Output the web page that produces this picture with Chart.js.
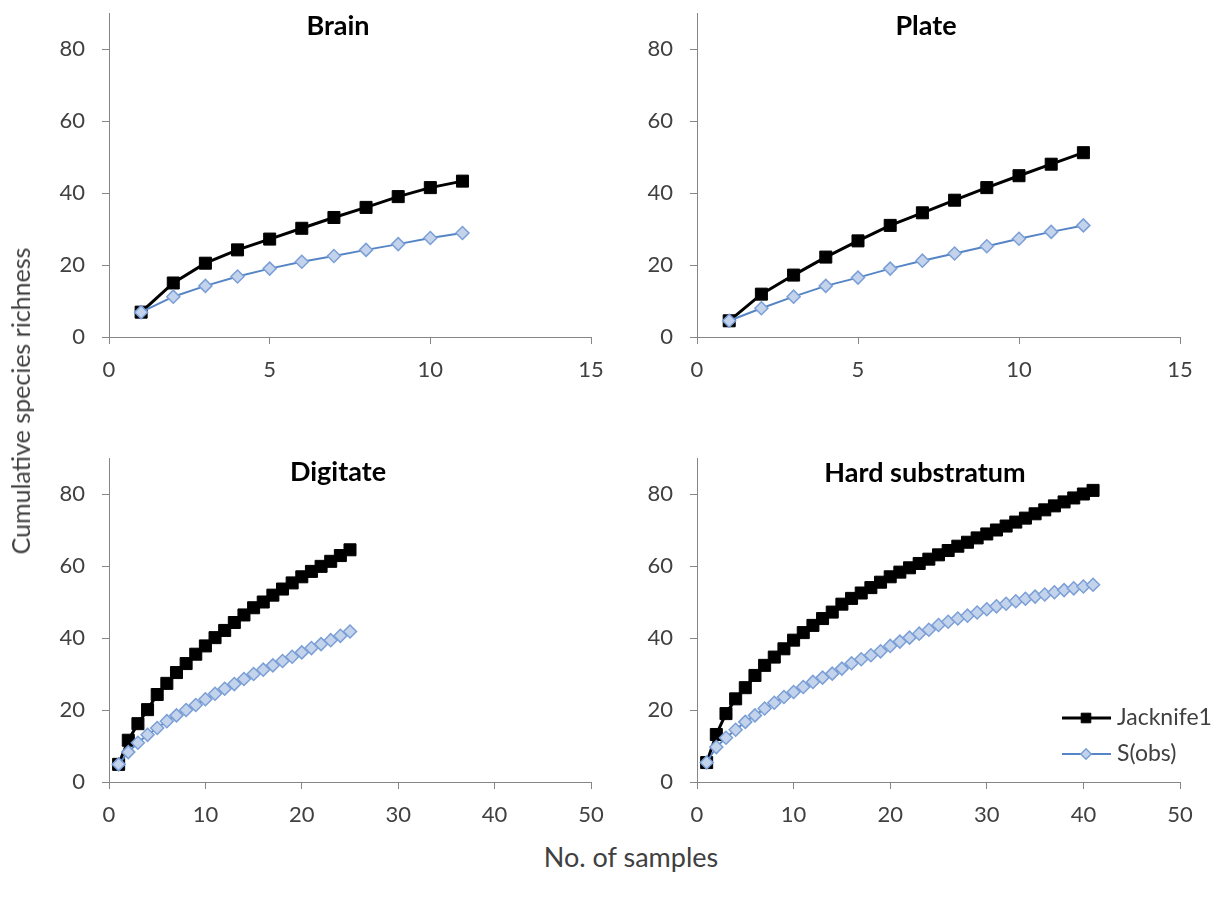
<!DOCTYPE html>
<html lang="en">
<head>
<meta charset="UTF-8">
<title>Cumulative species richness</title>
<script src="https://cdn.jsdelivr.net/npm/chart.js"></script>
<style>
  body { margin: 0; background: #fff; font-family: Lato, sans-serif; }
  #wrap { position: relative; width: 1223px; height: 900px; overflow: hidden; }
  canvas { position: absolute; }
  .ttl { position: absolute; transform: translate(-50%, -50%); font-weight: bold; font-size: 27px; color: #000; white-space: nowrap; }
  .axt { position: absolute; transform: translate(-50%, -50%); font-size: 25px; color: #404040; white-space: nowrap; }
</style>
</head>
<body>
<div id="wrap">
  <canvas id="cBrain" width="590" height="390" style="left:20px;top:0px"></canvas>
  <canvas id="cPlate" width="590" height="390" style="left:610px;top:0px"></canvas>
  <canvas id="cDigit" width="590" height="390" style="left:20px;top:445px"></canvas>
  <canvas id="cHard" width="613" height="390" style="left:610px;top:445px"></canvas>

  <div class="ttl" style="left:338px;top:24px">Brain</div>
  <div class="ttl" style="left:926px;top:24px">Plate</div>
  <div class="ttl" style="left:338px;top:470px">Digitate</div>
  <div class="ttl" style="left:925px;top:471px">Hard substratum</div>

  <div class="axt" style="left:20px;top:401px;transform:translate(-50%,-50%) rotate(-90deg)">Cumulative species richness</div>
  <div class="axt" style="left:631px;top:856px;font-size:27px">No. of samples</div>
</div>

<script>
// series names
const seriesNames = ['Jacknife1', 'S(obs)'];

// Brain
const brainJack = [6.9, 15.0, 20.5, 24.2, 27.2, 30.2, 33.2, 36.0, 39.0, 41.5, 43.3];
const brainSobs = [6.9, 11.2, 14.2, 16.8, 19.0, 20.9, 22.5, 24.2, 25.8, 27.5, 28.9];

// Plate
const plateJack = [4.5, 11.9, 17.2, 22.2, 26.7, 31.0, 34.5, 38.0, 41.5, 44.8, 48.0, 51.2];
const plateSobs = [4.5, 8.0, 11.2, 14.2, 16.5, 19.0, 21.2, 23.2, 25.2, 27.3, 29.2, 31.0];

// Digitate
const digitJack = [4.9, 11.6, 16.2, 20.1, 24.3, 27.4, 30.4, 32.9, 35.5, 37.8, 40.1, 42.1, 44.3, 46.4, 48.4,
                   50.0, 51.9, 53.6, 55.3, 57.0, 58.5, 59.9, 61.3, 62.9, 64.5];
const digitSobs = [4.9, 8.3, 10.9, 13.1, 15.0, 16.9, 18.5, 20.0, 21.4, 23.0, 24.5, 25.9, 27.2, 28.6, 30.0,
                   31.2, 32.4, 33.6, 34.8, 36.0, 37.2, 38.3, 39.4, 40.6, 41.8];

// Hard substratum
const hardJack = [5.4, 13.2, 19.0, 23.1, 26.2, 29.6, 32.4, 34.7, 37.0, 39.4, 41.5, 43.5, 45.4, 47.2, 49.4,
                  51.0, 52.5, 54.0, 55.5, 57.0, 58.3, 59.5, 60.7, 61.9, 63.1, 64.3, 65.5, 66.6, 67.8, 68.9,
                  70.0, 71.1, 72.2, 73.3, 74.5, 75.6, 76.7, 77.8, 78.9, 80.0, 81.0];
const hardSobs = [5.4, 9.7, 12.3, 14.5, 16.7, 18.5, 20.4, 22.0, 23.6, 25.0, 26.4, 27.8, 29.0, 30.1, 31.5,
                  33.0, 34.1, 35.2, 36.3, 37.8, 39.0, 40.1, 41.2, 42.3, 43.6, 44.5, 45.4, 46.2, 47.1, 48.0,
                  48.8, 49.5, 50.2, 50.9, 51.5, 52.1, 52.7, 53.3, 53.8, 54.3, 54.8];

// tick labels
const yTicks = [0, 20, 40, 60, 80];
const xTicksTop = [0, 5, 10, 15];
const xTicksBottom = [0, 10, 20, 30, 40, 50];

Chart.defaults.font.family = 'Lato, sans-serif';

const tickColor = '#404040';
const axisColor = '#868686';

const legendPlugin = {
  id: 'insideLegend',
  afterDraw(chart, args, opts) {
    if (!opts.show) return;
    const ctx = chart.ctx;
    const order = [1, 0]; // Jacknife1 first, then S(obs)
    order.forEach((di, k) => {
      const ds = chart.data.datasets[di];
      const y = opts.y + k * opts.gap;
      ctx.save();
      ctx.strokeStyle = ds.borderColor;
      ctx.lineWidth = ds.borderWidth;
      ctx.beginPath();
      ctx.moveTo(opts.x, y);
      ctx.lineTo(opts.x + 49, y);
      ctx.stroke();
      ctx.fillStyle = ds.pointBackgroundColor;
      ctx.strokeStyle = ds.pointBorderColor;
      ctx.lineWidth = ds.pointBorderWidth;
      Chart.helpers.drawPoint(ctx, {
        pointStyle: ds.pointStyle,
        radius: ds.pointRadius * 0.8,
        borderWidth: ds.pointBorderWidth,
        rotation: 0
      }, opts.x + 24, y);
      ctx.fillStyle = tickColor;
      ctx.font = '23px Lato, sans-serif';
      ctx.textBaseline = 'middle';
      ctx.fillText(ds.label, opts.x + 55, y);
      ctx.restore();
    });
  }
};

function toPoints(arr) {
  return arr.map((v, i) => ({ x: i + 1, y: v }));
}

function makeChart(id, jack, sobs, xMax, xTicks, yAxisW, padR, legend) {
  const ctx = document.getElementById(id).getContext('2d');
  return new Chart(ctx, {
    type: 'line',
    data: {
      datasets: [
        {
          label: seriesNames[1],
          data: toPoints(sobs),
          borderColor: '#5585c5',
          borderWidth: 2,
          pointStyle: 'rectRot',
          pointRadius: 6.5,
          pointBackgroundColor: '#c3d3ec',
          pointBorderColor: '#7b9fd6',
          pointBorderWidth: 1.5,
          tension: 0,
          order: 1
        },
        {
          label: seriesNames[0],
          data: toPoints(jack),
          borderColor: '#000',
          borderWidth: 3,
          pointStyle: 'rect',
          pointRadius: 8.5,
          pointBackgroundColor: '#000',
          pointBorderColor: '#000',
          pointBorderWidth: 1,
          tension: 0,
          order: 2
        }
      ]
    },
    options: {
      responsive: false,
      animation: false,
      devicePixelRatio: 1,
      layout: { padding: { top: 13, right: padR, left: 0, bottom: 0 } },
      plugins: {
        legend: { display: false },
        tooltip: { enabled: false },
        insideLegend: legend || { show: false }
      },
      scales: {
        x: {
          type: 'linear',
          min: 0,
          max: xMax,
          afterBuildTicks: s => { s.ticks = xTicks.map(v => ({ value: v })); },
          afterFit: s => { s.height = 53; s.paddingLeft = 0; s.paddingRight = 0; },
          ticks: { color: tickColor, font: { size: 22 }, padding: 13, maxRotation: 0 },
          grid: { display: true, drawOnChartArea: false, drawTicks: true, tickLength: 7, color: axisColor },
          border: { display: true, color: axisColor, width: 1 }
        },
        y: {
          type: 'linear',
          min: 0,
          max: 90,
          afterBuildTicks: s => { s.ticks = yTicks.map(v => ({ value: v })); },
          afterFit: s => { s.width = yAxisW; s.paddingTop = 0; s.paddingBottom = 0; },
          ticks: { color: tickColor, font: { size: 22 }, padding: 17 },
          grid: { display: true, drawOnChartArea: false, drawTicks: true, tickLength: 7, color: axisColor },
          border: { display: true, color: axisColor, width: 1 }
        }
      }
    },
    plugins: [legendPlugin]
  });
}

makeChart('cBrain', brainJack, brainSobs, 15, xTicksTop, 89, 19);
makeChart('cPlate', plateJack, plateSobs, 15, xTicksTop, 87, 20);
makeChart('cDigit', digitJack, digitSobs, 50, xTicksBottom, 89, 19);
makeChart('cHard', hardJack, hardSobs, 50, xTicksBottom, 87, 43,
  { show: true, x: 452, y: 273, gap: 36 });
</script>
</body>
</html>
